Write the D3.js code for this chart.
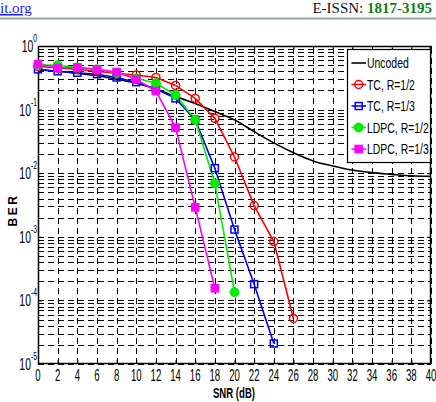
<!DOCTYPE html>
<html><head><meta charset="utf-8">
<script src="https://cdn.jsdelivr.net/npm/d3@7"></script>
<style>
body{margin:0;background:#fff;}
svg{display:block;}
</style></head>
<body><svg id="c" width="436" height="402"></svg>
<script>
const snrTicks = [0,2,4,6,8,10,12,14,16,18,20,22,24,26,28,30,32,34,36,38,40];
const decades = [0,-1,-2,-3,-4,-5];
const uncodedSNR = [0,2,4,6,8,10,12,14,16,18,20,22,24,26,28,30,32,34,36,38,40];
const uncodedBER = [0.42,0.40,0.37,0.34,0.30,0.26,0.21,0.16,0.125,0.093,0.069,0.045,0.030,0.021,0.0156,0.013,0.0112,0.0102,0.0096,0.0091,0.0089];
const tc12SNR = [0,2,4,6,8,10,12,14,16,18,20,22,24,26];
const tc12BER = [0.48,0.45,0.43,0.40,0.37,0.35,0.32,0.24,0.15,0.073,0.018,0.0031,0.00084,0.000052];
const tc13SNR = [0,2,4,6,8,10,12,14,16,18,20,22,24];
const tc13BER = [0.43,0.40,0.38,0.36,0.32,0.27,0.21,0.15,0.069,0.012,0.0013,0.00018,0.000021];
const ldpc12SNR = [0,2,4,6,8,10,12,14,16,18,20];
const ldpc12BER = [0.50,0.50,0.46,0.43,0.38,0.31,0.26,0.17,0.069,0.0069,0.000135];
const ldpc13SNR = [0,2,4,6,8,10,12,14,16,18];
const ldpc13BER = [0.52,0.45,0.46,0.43,0.39,0.30,0.196,0.052,0.0029,0.000155];
const seriesNames = ["Uncoded","TC, R=1/2","TC, R=1/3","LDPC, R=1/2","LDPC, R=1/3"];

const svg = d3.select("#c");
const L=38, R=431, T=46, B=364;
const x = d3.scaleLinear().domain([0,40]).range([L,R]);
const y = d3.scaleLog().domain([1e-5,1]).range([B,T]);
const FONT = "Liberation Sans, Arial, sans-serif";
function ntext(parent, px, py, anchor, size, sx, weight){
  const g = parent.append("g").attr("transform",`translate(${px},${py}) scale(${sx},1)`);
  return g.append("text").attr("x",0).attr("y",0).attr("text-anchor",anchor).attr("font-family",FONT)
    .attr("font-size",size).attr("font-weight",weight||"normal").attr("fill","#000");
}

// header
svg.append("text").attr("x",0).attr("y",13).attr("font-family","Liberation Serif, serif").attr("font-size",15)
  .attr("fill","#1a1aff").attr("text-decoration","underline").text("it.org");
const h = svg.append("text").attr("x",432).attr("y",13).attr("text-anchor","end").attr("font-family","Liberation Serif, serif").attr("font-size",15);
h.append("tspan").attr("fill","#111").text("E-ISSN: ");
h.append("tspan").attr("fill","#1a7a1a").attr("font-weight","bold").text("1817-3195");
svg.append("line").attr("x1",0).attr("x2",436).attr("y1",18.5).attr("y2",18.5).attr("stroke","#9aa89a").attr("stroke-width",2);

// grid
const g = svg.append("g");
const minorVals = [];
for (let e=-5;e<0;e++) for (let m=1;m<=9;m++) minorVals.push(m*Math.pow(10,e));
minorVals.push(1);
g.selectAll(".hg").data(minorVals).join("line")
  .attr("x1",L).attr("x2",R).attr("y1",d=>Math.round(y(d))+0.5).attr("y2",d=>Math.round(y(d))+0.5)
  .attr("stroke","#000").attr("stroke-width",1).attr("stroke-dasharray","6,4");
g.selectAll(".vg").data(snrTicks).join("line")
  .attr("x1",d=>Math.round(x(d))+0.5).attr("x2",d=>Math.round(x(d))+0.5).attr("y1",B).attr("y2",T)
  .attr("stroke","#000").attr("stroke-width",1).attr("stroke-dasharray","6,4");

// axes ticks
const gx = svg.append("g").attr("transform",`translate(0,${B})`).call(d3.axisBottom(x).tickValues(snrTicks).tickSize(-4).tickFormat(""));
gx.select(".domain").remove();
snrTicks.forEach(v=>{ ntext(svg, x(v), 381, "middle", 16, 0.6).text(v); });
svg.append("g").attr("transform",`translate(0,${T})`).call(d3.axisTop(x).tickValues(snrTicks).tickSize(-4).tickFormat("")).select(".domain").remove();
svg.append("g").attr("transform",`translate(${L},0)`).call(d3.axisLeft(y).tickValues(decades.map(e=>Math.pow(10,e))).tickSize(-4).tickFormat("")).select(".domain").remove();
svg.append("g").attr("transform",`translate(${R},0)`).call(d3.axisRight(y).tickValues(decades.map(e=>Math.pow(10,e))).tickSize(-4).tickFormat("")).select(".domain").remove();
decades.forEach(e=>{
  const t = ntext(svg, L-1, y(Math.pow(10,e))+6, "end", 16, 0.65);
  t.append("tspan").text("10");
  t.append("tspan").attr("font-size",10.5).attr("dy",-10).text(e);
});

svg.append("rect").attr("x",L+0.5).attr("y",T+0.5).attr("width",R-L-1).attr("height",B-T-1)
  .attr("fill","none").attr("stroke","#000").attr("stroke-width",1.5);

// axis titles
ntext(svg, 234, 398, "middle", 15, 0.64, "bold").text("SNR (dB)");
svg.append("text").attr("transform",`translate(17,210) rotate(-90)`).attr("text-anchor","middle")
  .attr("font-family",FONT).attr("font-size",12).attr("font-weight","bold").attr("letter-spacing",2.5).text("BER");

// series
const series = [
  {name:seriesNames[0], xs:uncodedSNR, ys:uncodedBER, color:"#000", marker:null, curve:d3.curveMonotoneX},
  {name:seriesNames[1], xs:tc12SNR, ys:tc12BER, color:"#ff0000", marker:"circleOpen", curve:d3.curveLinear},
  {name:seriesNames[2], xs:tc13SNR, ys:tc13BER, color:"#0000ff", marker:"squareOpen", curve:d3.curveLinear},
  {name:seriesNames[3], xs:ldpc12SNR, ys:ldpc12BER, color:"#00ee00", marker:"circleFill", curve:d3.curveLinear},
  {name:seriesNames[4], xs:ldpc13SNR, ys:ldpc13BER, color:"#ff00ff", marker:"squareFill", curve:d3.curveLinear},
];
function drawMarker(sel, m, color){
  if(m==="circleOpen") sel.append("circle").attr("r",4).attr("fill","none").attr("stroke",color).attr("stroke-width",1.5);
  else if(m==="squareOpen") sel.append("rect").attr("x",-3.5).attr("y",-3.5).attr("width",7).attr("height",7).attr("fill","none").attr("stroke",color).attr("stroke-width",1.5);
  else if(m==="circleFill") sel.append("circle").attr("r",4.5).attr("fill",color).attr("stroke",color);
  else if(m==="squareFill") sel.append("rect").attr("x",-3.8).attr("y",-3.8).attr("width",7.6).attr("height",7.6).attr("fill",color).attr("stroke",color);
}
series.forEach(s=>{
  const pts = s.xs.map((v,i)=>[v,s.ys[i]]);
  const line = d3.line().x(d=>x(d[0])).y(d=>y(d[1])).curve(s.curve);
  svg.append("path").datum(pts).attr("d",line).attr("fill","none").attr("stroke",s.color).attr("stroke-width",1.6);
});
series.forEach(s=>{
  if(!s.marker) return;
  const pts = s.xs.map((v,i)=>[v,s.ys[i]]);
  svg.append("g").selectAll("g").data(pts).join("g").attr("transform",d=>`translate(${x(d[0])},${y(d[1])})`)
    .each(function(){drawMarker(d3.select(this), s.marker, s.color);});
});

// legend
const lg = svg.append("g");
lg.append("rect").attr("x",347.5).attr("y",49.5).attr("width",83).attr("height",113).attr("fill","#fff").attr("stroke","#000").attr("stroke-width",1.2);
series.forEach((s,i)=>{
  const yy = 63 + i*21.5;
  lg.append("line").attr("x1",351.5).attr("x2",366).attr("y1",yy).attr("y2",yy).attr("stroke",s.color).attr("stroke-width",1.6);
  if(s.marker){ const m = lg.append("g").attr("transform",`translate(358.7,${yy})`); drawMarker(m,s.marker,s.color); }
  ntext(lg, 367, yy+5, "start", 14.5, 0.72).text(s.name);
});
</script></body></html>
